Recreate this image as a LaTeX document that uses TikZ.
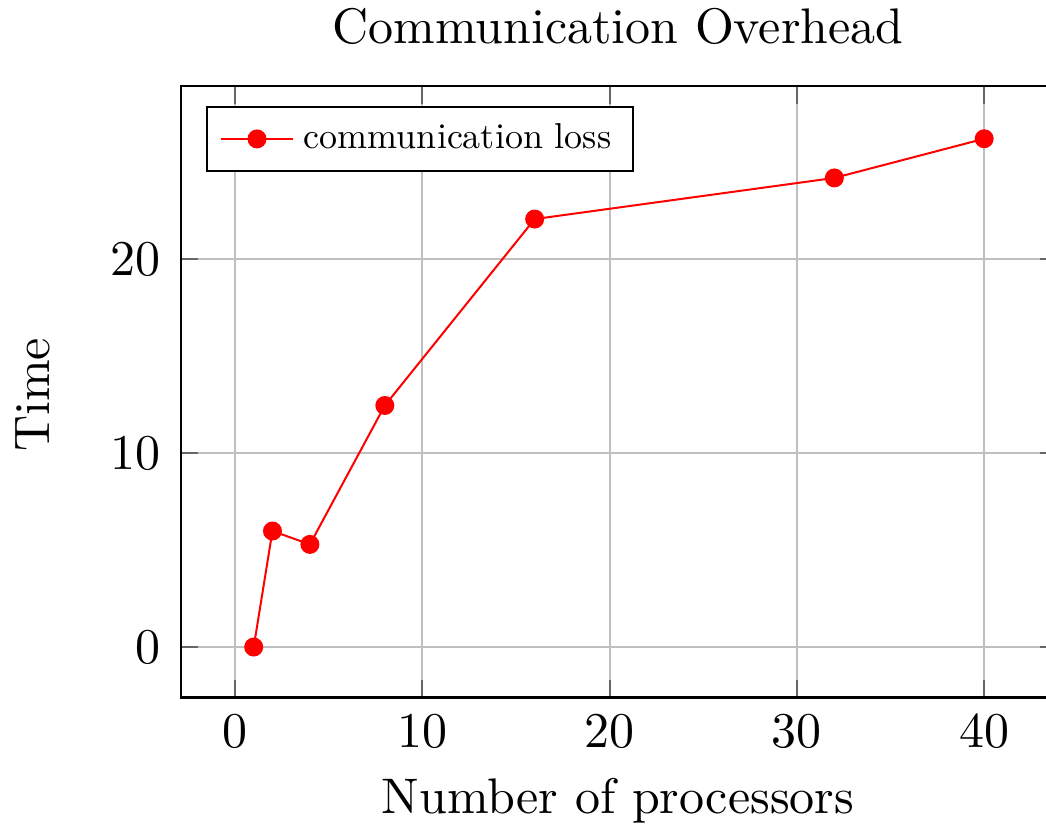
\documentclass[tikz,border=0pt]{standalone}
\usepackage{graphicx}
\usepackage{tikz}
\begin{document}
\begin{tikzpicture}[x=3.746pt,y=3.88pt,
  gridline/.style={black!25,line width=0.4pt},
  tickline/.style={black!60,line width=0.4pt},
  frame/.style={black,line width=0.45pt},
  series/.style={red,line width=0.4pt},
  dot/.style={circle,fill=red,inner sep=0pt,minimum size=3.8pt},
  ticklabel/.style={font=\fontsize{10}{12}\selectfont,inner sep=0pt}]
% page area
\clip (-47pt,-35.2pt) rectangle (162.2pt,129.4pt);
% grid
\foreach \x in {0,10,20,30,40}
  \draw[gridline] (\x,-2.6) -- (\x,28.9);
\foreach \y in {0,10,20}
  \draw[gridline] (-2.9,\y) -- (43.9,\y);
% ticks on all sides
\foreach \x in {0,10,20,30,40} {
  \draw[tickline] (\x,-2.6) -- ++(0,3.5pt);
  \draw[tickline] (\x,28.9) -- ++(0,-3.5pt);
}
\foreach \y in {0,10,20} {
  \draw[tickline] (-2.9,\y) -- ++(3.5pt,0);
  \draw[tickline] (43.9,\y) -- ++(-3.5pt,0);
}
% axis frame
\draw[frame] (-2.9,-2.6) rectangle (43.9,28.9);
% tick labels
\foreach \x in {0,10,20,30,40}
  \node[ticklabel,anchor=base] (xl\x) at (\x,-5.2) {\x};
\foreach \y in {0,10,20}
  \node[ticklabel,anchor=east] (yl\y) at (-3.95,\y) {\y};
% axis labels and title
\node[font=\fontsize{10}{12}\selectfont,anchor=base,inner sep=0pt] (xlabel) at (20.45,-8.56) {Number of processors};
\node[font=\fontsize{10}{12}\selectfont,anchor=base,rotate=90,inner sep=0pt] (ylabel) at (-9.9,13.0) {Time};
\node[font=\fontsize{10}{12}\selectfont,anchor=base,inner sep=0pt] (title) at (20.45,31.13) {Communication Overhead};
% data series
\coordinate (p1) at (1,0);
\coordinate (p2) at (2,5.98);
\coordinate (p3) at (4,5.29);
\coordinate (p4) at (8,12.45);
\coordinate (p5) at (16,22.06);
\coordinate (p6) at (32,24.18);
\coordinate (p7) at (40,26.2);
\draw[series] (p1) -- (p2) -- (p3) -- (p4) -- (p5) -- (p6) -- (p7);
\foreach \p in {p1,p2,p3,p4,p5,p6,p7}
  \node[dot] at (\p) {};
% legend
\draw[black,line width=0.4pt,fill=white] (-1.495,24.54) rectangle (21.25,27.84);
\coordinate (la) at (-0.75,26.19);
\coordinate (lb) at (3.1,26.19);
\draw[series] (la) -- (lb);
\node[dot] (lm) at (1.175,26.19) {};
\node[anchor=base west,inner sep=0pt,font=\fontsize{10}{12}\selectfont] (ltext) at (3.63,25.72) {\scalebox{0.72}{communication loss}};
\end{tikzpicture}
\end{document}
